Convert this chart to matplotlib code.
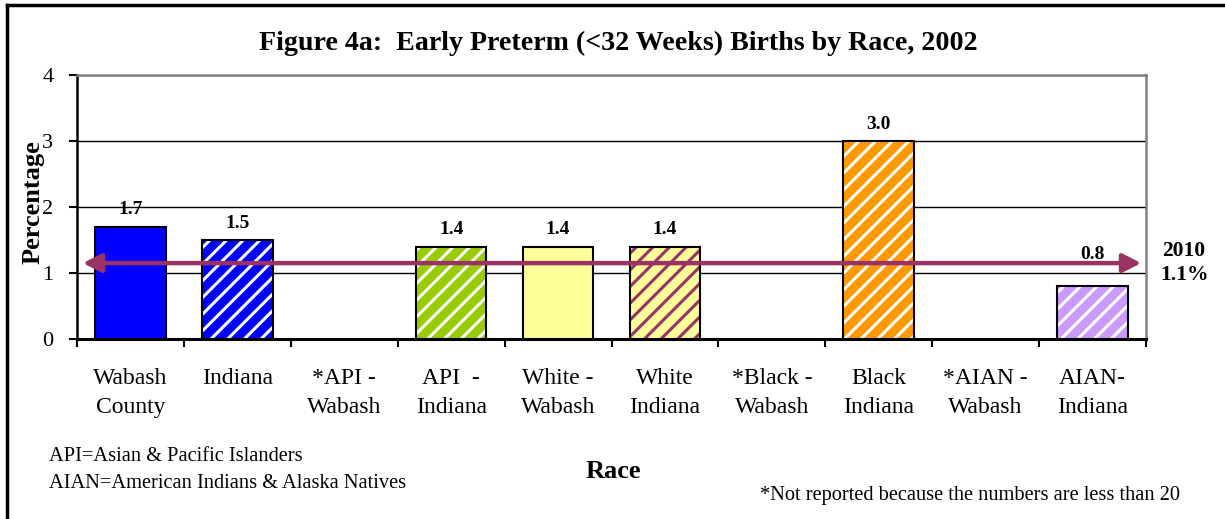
import matplotlib
matplotlib.use("Agg")
import matplotlib.pyplot as plt
from matplotlib.lines import Line2D

categories = ["Wabash\nCounty", "Indiana", "*API -\nWabash", "API  -\nIndiana",
              "White -\nWabash", "White\nIndiana", "*Black -\nWabash", "Black\nIndiana",
              "*AIAN -\nWabash", "AIAN-\nIndiana"]
values = [1.7, 1.5, None, 1.4, 1.4, 1.4, None, 3.0, None, 0.8]
face_colors = ["#0000FF", "#0000FF", None, "#99CC00", "#FFFF99", "#FFFF99",
               None, "#FF9900", None, "#CC99FF"]
stripe_colors = [None, "#FFFFFF", None, "#FFFFFF", None, "#993366",
                 None, "#FFFFFF", None, "#FFFFFF"]
label_extra_offset = [0, 0, 0, 0, 0, 0, 0, 0, 0, 11]   # points (style only)
target_value = 1.1
target_line_y = 1.15
yticks = [0, 1, 2, 3, 4]

plt.rcParams['font.family'] = ['Liberation Serif', 'DejaVu Serif']
plt.rcParams['hatch.linewidth'] = 2.2

W, H = 1225, 519
fig = plt.figure(figsize=(W / 100, H / 100), dpi=100)
ax = fig.add_axes([77/W, 1-339/H, (1146-77)/W, (339-75)/H])

for i, (v, fc, sc) in enumerate(zip(values, face_colors, stripe_colors)):
    if v is None:
        continue
    if sc is None:
        ax.bar(i, v, width=0.66, color=fc, edgecolor='black', linewidth=1.5, zorder=3)
    else:
        ax.bar(i, v, width=0.66, color=fc, edgecolor=sc, hatch='//', linewidth=0, zorder=3)
        ax.bar(i, v, width=0.66, fill=False, edgecolor='black', linewidth=1.5, zorder=4)
    ax.annotate(f"{v:.1f}", xy=(i, v), xytext=(0, 6 + label_extra_offset[i]),
                textcoords='offset points', ha='center', va='bottom',
                fontsize=14, fontweight='bold', zorder=7)

ax.set_xlim(-0.5, len(categories) - 0.5)
ax.set_ylim(0, 4)
ax.set_yticks(yticks)
ax.set_yticklabels([str(t) for t in yticks], fontsize=16)
ax.yaxis.grid(True, color='black', linewidth=1.0, zorder=0)
ax.set_axisbelow(True)

ax.set_xticks([i - 0.5 for i in range(len(categories) + 1)])
ax.set_xticklabels([])
ax.set_xticks(range(len(categories)), minor=True)
ax.set_xticklabels(categories, minor=True, fontsize=17, linespacing=1.5)
ax.tick_params(axis='x', which='minor', length=0, pad=21)
ax.tick_params(axis='x', which='major', length=6, width=1.5, direction='out')
ax.tick_params(axis='y', length=6, width=1.5, direction='out', pad=11)

for s in ['top', 'right']:
    ax.spines[s].set_color('#808080')
    ax.spines[s].set_linewidth(1.8)
ax.spines['left'].set_linewidth(1.8)
ax.spines['bottom'].set_linewidth(2.2)

fig.text(33/W, 1-202/H, "Percentage", rotation=90, ha='center', va='center',
         fontsize=19, fontweight='bold')

ax.annotate('', xy=(0.9955, target_line_y), xytext=(0.0055, target_line_y),
            xycoords=('axes fraction', 'data'), textcoords=('axes fraction', 'data'),
            arrowprops=dict(arrowstyle='<|-|>,head_length=0.55,head_width=0.28',
                            color='#993366', lw=3.2, mutation_scale=20,
                            shrinkA=0, shrinkB=0), zorder=6)

fig.text(1184/W, 1-263/H, f"2010\n{target_value:.1f}%", ha='center', va='center',
         fontsize=15.5, fontweight='bold', linespacing=1.32)

fig.text(618.5/W, 1-43/H, "Figure 4a:  Early Preterm (<32 Weeks) Births by Race, 2002",
         ha='center', va='center', fontsize=20.2, fontweight='bold')
fig.text(613/W, 1-471/H, "Race", ha='center', va='center', fontsize=19, fontweight='bold')
fig.text(49/W, 1-461/H, "API=Asian & Pacific Islanders", ha='left', va='baseline',
         fontsize=14.7)
fig.text(49/W, 1-488/H, "AIAN=American Indians & Alaska Natives", ha='left',
         va='baseline', fontsize=14.7)
fig.text(1180/W, 1-500/H, "*Not reported because the numbers are less than 20",
         ha='right', va='baseline', fontsize=14.7)

fig.add_artist(Line2D([7/W, 7/W], [0, 1-5/H], color='black', lw=2.5,
                      transform=fig.transFigure))
fig.add_artist(Line2D([7/W, 1], [1-5/H, 1-5/H], color='black', lw=2.5,
                      transform=fig.transFigure))

fig.savefig("out.png", dpi=100)
